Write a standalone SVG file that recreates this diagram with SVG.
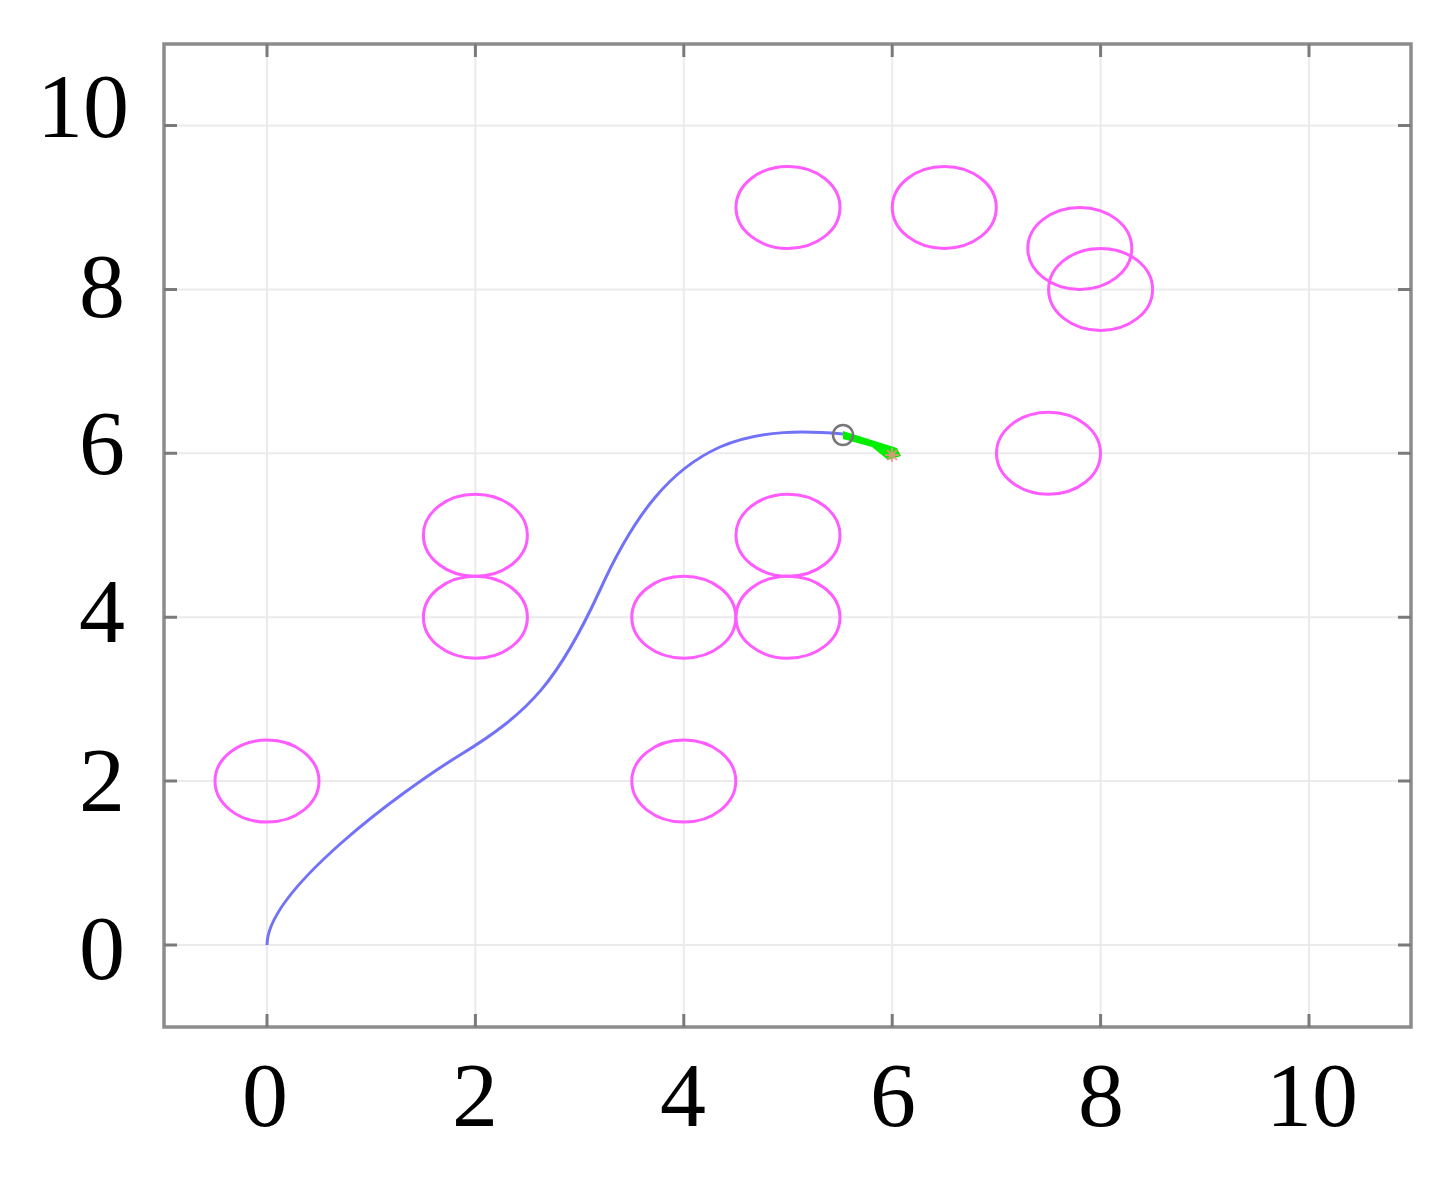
<svg xmlns="http://www.w3.org/2000/svg" width="1451" height="1182" viewBox="0 0 1451 1182">
<style>
.grid{stroke:#ebebeb;stroke-width:2;fill:none}
.tick{stroke:#7a7a7a;stroke-width:3;fill:none}
.box{stroke:#8c8c8c;stroke-width:3.5;fill:none}
.obs{stroke:#ff5cff;stroke-width:3;fill:none}
.lbl{font-family:"Liberation Serif","Times New Roman",serif;font-size:92px;fill:#000}
</style>
<rect x="0" y="0" width="1451" height="1182" fill="#fff"/>
<g id="grid">
<path class="grid" d="M267,44V1027M475.4,44V1027M683.8,44V1027M892.2,44V1027M1100.6,44V1027M1309,44V1027"/>
<path class="grid" d="M164,945H1411M164,781.1H1411M164,617.2H1411M164,453.3H1411M164,289.4H1411M164,125.5H1411"/>
</g>
<g id="axes">
<rect class="box" x="164" y="44" width="1247" height="983"/>
<path class="tick" d="M267,1027v-13M475.4,1027v-13M683.8,1027v-13M892.2,1027v-13M1100.6,1027v-13M1309,1027v-13"/>
<path class="tick" d="M267,44v13M475.4,44v13M683.8,44v13M892.2,44v13M1100.6,44v13M1309,44v13"/>
<path class="tick" d="M164,945h13M164,781.1h13M164,617.2h13M164,453.3h13M164,289.4h13M164,125.5h13"/>
<path class="tick" d="M1411,945h-13M1411,781.1h-13M1411,617.2h-13M1411,453.3h-13M1411,289.4h-13M1411,125.5h-13"/>
</g>
<g id="xlabels" class="lbl" text-anchor="middle">
<text x="265" y="1126">0</text>
<text x="475" y="1126">2</text>
<text x="683" y="1126">4</text>
<text x="893" y="1126">6</text>
<text x="1101" y="1126">8</text>
<text x="1312" y="1126">10</text>
</g>
<g id="ylabels" class="lbl" text-anchor="end">
<text x="129" y="137">10</text>
<text x="125" y="317">8</text>
<text x="125" y="474">6</text>
<text x="125" y="642">4</text>
<text x="125" y="811">2</text>
<text x="125" y="979">0</text>
</g>
<g id="obstacles">
<ellipse class="obs" cx="267" cy="781.1" rx="52" ry="41"/>
<ellipse class="obs" cx="475.4" cy="535.25" rx="52" ry="41"/>
<ellipse class="obs" cx="475.4" cy="617.2" rx="52" ry="41"/>
<ellipse class="obs" cx="683.8" cy="617.2" rx="52" ry="41"/>
<ellipse class="obs" cx="788" cy="535.25" rx="52" ry="41"/>
<ellipse class="obs" cx="788" cy="617.2" rx="52" ry="41"/>
<ellipse class="obs" cx="683.8" cy="781.1" rx="52" ry="41"/>
<ellipse class="obs" cx="788" cy="207.45" rx="52" ry="41"/>
<ellipse class="obs" cx="944.3" cy="207.45" rx="52" ry="41"/>
<ellipse class="obs" cx="1079.8" cy="248.4" rx="52" ry="41"/>
<ellipse class="obs" cx="1100.6" cy="289.4" rx="52" ry="41"/>
<ellipse class="obs" cx="1048.5" cy="453.3" rx="52" ry="41"/>
</g>
<g id="path">
<path d="M267,945 C267,890 400,792 460,755 C531.2,711.8 559.2,678.8 600,590 C635.6,511.6 671.6,468.7 720,447 C760,429 808,431 843,434" fill="none" stroke="#7272f8" stroke-width="3"/>
</g>
<g id="robot">
<polygon points="843,431 897,448 901,456 888,460 872,447 843,439" fill="#00ee00"/>
<g stroke="#ff8a8a" stroke-width="2" opacity="0.8">
<path d="M885,455h14M892,448v14M887,450l10,10M897,450l-10,10"/>
</g>
<circle cx="843" cy="435" r="10" fill="none" stroke="#777" stroke-width="2.5"/>
</g>
</svg>
